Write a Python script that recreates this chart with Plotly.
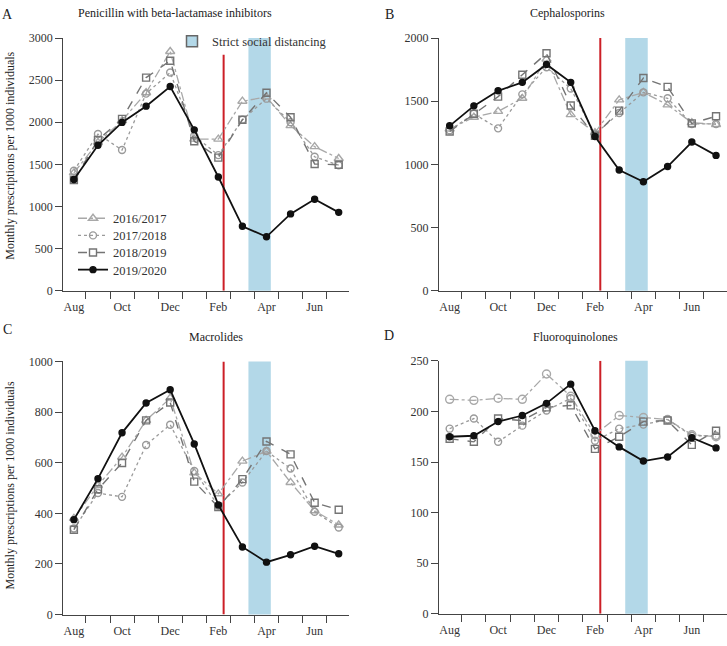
import plotly.graph_objects as go

# ---------------- data ----------------
months = ["Aug", "Sep", "Oct", "Nov", "Dec", "Jan", "Feb", "Mar", "Apr", "May", "Jun", "Jul"]
month_idx = list(range(12))
tick_idx = [0, 2, 4, 6, 8, 10]
tick_labels = ["Aug", "Oct", "Dec", "Feb", "Apr", "Jun"]
seasons = ["2016/2017", "2017/2018", "2018/2019", "2019/2020"]

# Penicillin with beta-lactamase inhibitors
pen_1617 = [1400, 1760, 2020, 2350, 2840, 1800, 1800, 2250, 2300, 1960, 1710, 1570]
pen_1718 = [1425, 1860, 1670, 2340, 2590, 1840, 1610, 2030, 2280, 2000, 1590, 1490]
pen_1819 = [1315, 1790, 2040, 2530, 2730, 1775, 1580, 2030, 2350, 2060, 1505, 1495]
pen_1920 = [1320, 1727, 1998, 2191, 2424, 1910, 1350, 765, 640, 912, 1086, 930]

# Cephalosporins
cep_1617 = [1280, 1373, 1419, 1523, 1833, 1394, 1252, 1510, 1570, 1471, 1330, 1316]
cep_1718 = [1270, 1400, 1285, 1554, 1768, 1600, 1240, 1407, 1570, 1523, 1320, 1320]
cep_1819 = [1260, 1401, 1536, 1709, 1879, 1466, 1226, 1425, 1683, 1613, 1324, 1381]
cep_1920 = [1305, 1463, 1582, 1649, 1791, 1649, 1221, 955, 862, 983, 1177, 1071]

# Macrolides
mac_1617 = [380, 510, 622, 767, 855, 560, 477, 606, 645, 522, 410, 354]
mac_1718 = [340, 480, 465, 670, 750, 567, 430, 522, 646, 577, 406, 344]
mac_1819 = [335, 495, 599, 767, 838, 525, 425, 535, 684, 633, 442, 414]
mac_1920 = [375, 537, 718, 836, 888, 674, 433, 267, 207, 236, 270, 240]

# Fluoroquinolones
flu_1617 = [212, 211, 213, 212, 237, 215, 177, 196, 194, 192, 177, 175]
flu_1718 = [183, 193, 170, 186, 201, 213, 171, 183, 187, 192, 176, 176]
flu_1819 = [173, 170, 193, 191, 204, 206, 163, 175, 190, 191, 167, 181]
flu_1920 = [175, 176, 190, 196, 208, 227, 181, 165, 151, 155, 174, 164]

panel_titles = ["Penicillin with beta-lactamase inhibitors", "Cephalosporins",
                "Macrolides", "Fluoroquinolones"]
panel_letters = ["A", "B", "C", "D"]
y_max = [3000, 2000, 1000, 250]
y_step = [500, 500, 200, 50]
red_line_top = [2800, 2000, 1000, 250]

# event timing on the month axis (Aug = 0)
first_case = 6.22
distancing_start = 7.25
distancing_end = 8.18

panels = [
    [pen_1617, pen_1718, pen_1819, pen_1920],
    [cep_1617, cep_1718, cep_1819, cep_1920],
    [mac_1617, mac_1718, mac_1819, mac_1920],
    [flu_1617, flu_1718, flu_1819, flu_1920],
]

# ---------------- styles ----------------
FONT = "Liberation Serif"
styles = [
    dict(color="#a8a8a8", dash="dashdot", symbol="triangle-up-open", width=1.3, size=8),
    dict(color="#9a9a9a", dash="dot", symbol="circle-open", width=1.3, size=7),
    dict(color="#747474", dash="dash", symbol="square-open", width=1.4, size=7),
    dict(color="#111111", dash="solid", symbol="circle", width=1.8, size=6),
]
series_legends = ["legend", "legend3", "legend4", "legend5"]
legend_row_y = [220, 237.5, 255, 272.5]

W, H = 727, 646
xdom = [[63.3 / W, 349.3 / W], [439 / W, 726.7 / W], [63.3 / W, 349.3 / W], [439 / W, 726.7 / W]]
ydom = [[1 - 290 / H, 1 - 31.7 / H], [1 - 290 / H, 1 - 31.7 / H],
        [1 - 621 / H, 1 - 362.3 / H], [1 - 620.3 / H, 1 - 361.7 / H]]

fig = go.Figure()

for p, series in enumerate(panels):
    xa = "x" if p == 0 else f"x{p+1}"
    ya = "y" if p == 0 else f"y{p+1}"
    for s, vals in enumerate(series):
        st = styles[s]
        sym = st["symbol"]
        if p == 3 and s == 0:
            sym = "circle-open"
        fig.add_trace(go.Scatter(
            x=month_idx, y=vals, xaxis=xa, yaxis=ya,
            mode="lines+markers", name=seasons[s],
            showlegend=(p == 0), legend=series_legends[s],
            line=dict(color=st["color"], dash=st["dash"], width=st["width"]),
            marker=dict(symbol=sym, size=st["size"], color=st["color"],
                        line=dict(color=st["color"], width=1.4)),
        ))
    fig.add_shape(type="rect", xref=xa, yref=f"{ya} domain",
                  x0=distancing_start, x1=distancing_end, y0=0, y1=1,
                  fillcolor="#b3d8e8", line=dict(width=0), layer="below")
    fig.add_shape(type="line", xref=xa, yref=ya,
                  x0=first_case, x1=first_case, y0=0, y1=red_line_top[p],
                  line=dict(color="#cc1f27", width=2), layer="below")

fig.add_trace(go.Scatter(
    x=[None], y=[None], mode="markers", name="Strict social distancing",
    legend="legend2", showlegend=True,
    marker=dict(symbol="square", size=11, color="#b3d8e8",
                line=dict(color="#666666", width=1.5)),
))

axis_common = dict(showgrid=False, zeroline=False, showline=True,
                   linecolor="#444444", linewidth=1.3,
                   tickfont=dict(family=FONT, size=12, color="#333333"))

legend_font = dict(family=FONT, size=12.5, color="#333333")
layout = dict(
    width=W, height=H,
    margin=dict(l=0, r=0, t=0, b=0),
    paper_bgcolor="white", plot_bgcolor="white",
    font=dict(family=FONT, size=12, color="#333333"),
    legend2=dict(x=172 / W, y=1 - 20 / H, xanchor="left", yanchor="top",
                 bgcolor="rgba(0,0,0,0)", font=legend_font),
)
for s in range(4):
    layout[series_legends[s]] = dict(x=73 / W, y=1 - (legend_row_y[s] - 19) / H,
                                     xanchor="left", yanchor="top",
                                     bgcolor="rgba(0,0,0,0)", font=legend_font)

for p in range(4):
    xk = "xaxis" if p == 0 else f"xaxis{p+1}"
    yk = "yaxis" if p == 0 else f"yaxis{p+1}"
    ya = "y" if p == 0 else f"y{p+1}"
    xa = "x" if p == 0 else f"x{p+1}"
    layout[xk] = dict(axis_common, domain=xdom[p], anchor=ya, range=[-0.44, 11.44],
                      tickmode="array", tickvals=tick_idx, ticktext=tick_labels,
                      ticks="", ticklabelstandoff=5,
                      minor=dict(tickmode="array", tickvals=[i + 0.5 for i in range(11)],
                                 ticks="outside", ticklen=7, tickwidth=1.3,
                                 tickcolor="#444444"))
    layout[yk] = dict(axis_common, domain=ydom[p], anchor=xa, range=[0, y_max[p]],
                      tickmode="linear", tick0=0, dtick=y_step[p],
                      ticks="outside", ticklen=7, tickwidth=1.3, tickcolor="#444444")

fig.update_layout(**layout)

title_pos = [(175, 6), (567, 6), (216, 337), (575, 337)]
letter_pos = [(7, 8), (389, 8), (7, 330), (389, 336)]
for p in range(4):
    tx, ty = title_pos[p]
    fig.add_annotation(text=panel_titles[p], xref="paper", yref="paper",
                       x=tx / W, y=1 - ty / H, xanchor="center", yanchor="middle",
                       showarrow=False, font=dict(family=FONT, size=12, color="#222222"))
    lx, ly = letter_pos[p]
    fig.add_annotation(text=panel_letters[p], xref="paper", yref="paper",
                       x=lx / W, y=1 - ly / H, xanchor="center", yanchor="middle",
                       showarrow=False, font=dict(family=FONT, size=14, color="#222222"))

for yc in (152, 489):
    fig.add_annotation(text="Monthly prescriptions per 1000 individuals",
                       xref="paper", yref="paper", x=10 / W, y=1 - yc / H,
                       xanchor="center", yanchor="middle", textangle=-90,
                       showarrow=False, font=dict(family=FONT, size=12, color="#222222"))

fig.write_html("out.html", config={"displayModeBar": False},
               post_script="document.body.style.margin='0';document.body.style.overflow='hidden';")
